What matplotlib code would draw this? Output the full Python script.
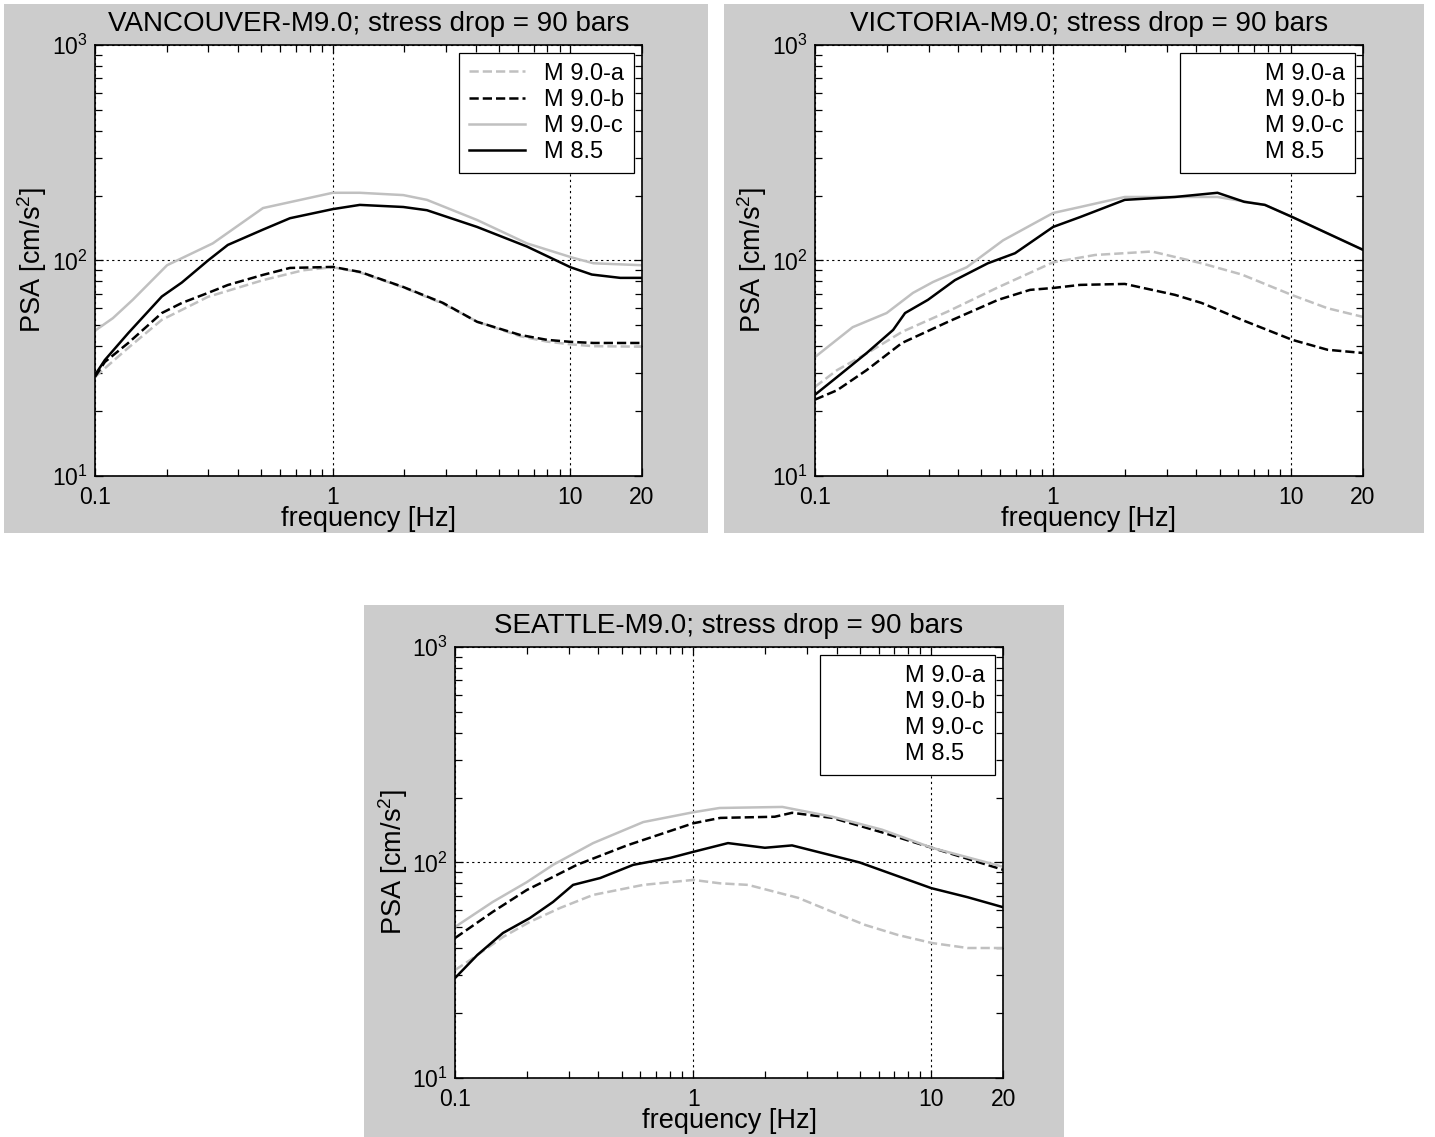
import numpy as np
import matplotlib.pyplot as plt
from matplotlib.patches import Rectangle
from matplotlib.ticker import NullFormatter, LogFormatterMathtext

plt.rcParams.update({
    'font.family': 'Liberation Sans',
    'mathtext.fontset': 'custom',
    'mathtext.rm': 'Liberation Sans',
    'mathtext.it': 'Liberation Sans:italic',
    'mathtext.bf': 'Liberation Sans:bold',
})

# ---------------------------------------------------------------
# data
# ---------------------------------------------------------------
labels = ['M 9.0-a', 'M 9.0-b', 'M 9.0-c', 'M 8.5']
xtick_vals = [0.1, 1, 10, 20]
xtick_labels = ['0.1', '1', '10', '20']

# Vancouver
van_a_f = [0.1, 0.138, 0.191, 0.299, 0.509, 0.75, 1.0, 1.3, 1.98, 2.91, 4.05, 6.14, 7.98, 10.0, 12.5, 20]
van_a = [28.8, 39.3, 53, 67.8, 81, 90, 93, 88, 75, 63, 52, 44.5, 42, 40.8, 40, 39.8]
van_b_f = [0.1, 0.110, 0.138, 0.191, 0.232, 0.299, 0.362, 0.509, 0.661, 1.0, 1.3, 1.98, 2.91, 4.05, 6.14, 7.98, 10.0, 12.5, 20]
van_b = [28.8, 33.8, 41.4, 57, 63.5, 70.7, 76.9, 85.7, 92.3, 93.3, 88.5, 75.3, 63.5, 51.9, 45.1, 42.8, 41.9, 41.4, 41.4]
van_c_f = [0.1, 0.119, 0.144, 0.201, 0.313, 0.509, 1.0, 1.3, 1.98, 2.49, 4.05, 6.56, 10.2, 12.5, 20]
van_c = [47.2, 54, 65.6, 95, 120, 175, 206, 206, 201, 191, 154, 120, 103, 97, 95]
van_d_f = [0.1, 0.110, 0.138, 0.191, 0.232, 0.299, 0.362, 0.509, 0.661, 1.0, 1.3, 1.98, 2.49, 4.05, 6.56, 10.0, 12.3, 16.2, 20]
van_d = [29.4, 34.5, 46, 68, 79, 100, 118, 139, 157, 173, 181, 177, 171, 143, 116, 93, 86, 83, 83]

# Victoria
vic_a_f = [0.1, 0.124, 0.165, 0.232, 0.362, 0.587, 1.0, 1.5, 2.6, 4.2, 6.2, 10.1, 14.2, 20]
vic_a = [25.9, 31, 37, 46.6, 58, 75, 98, 106, 110, 97, 86, 69, 60, 54.7]
vic_b_f = [0.1, 0.124, 0.165, 0.232, 0.362, 0.587, 0.8, 1.0, 1.3, 2.0, 3.25, 4.2, 6.2, 10.1, 14.2, 20]
vic_b = [22.6, 25, 31, 41.4, 51.9, 65.6, 73, 74.5, 77, 77.8, 69.2, 63.5, 53, 42.8, 38.5, 37.2]
vic_c_f = [0.1, 0.144, 0.2, 0.258, 0.313, 0.434, 0.617, 1.0, 1.3, 2.0, 4.9, 7.75, 10.1, 20]
vic_c = [35.6, 49, 57, 70.7, 79.4, 93, 124, 166, 177, 197, 197, 181, 159, 112]
vic_d_f = [0.1, 0.124, 0.165, 0.213, 0.239, 0.298, 0.387, 0.532, 0.692, 1.0, 1.3, 2.0, 3.25, 4.9, 6.35, 7.75, 10.1, 20]
vic_d = [23.8, 28.8, 37.2, 47.6, 57, 65.6, 81, 97, 108, 143, 159, 191, 197, 206, 187, 181, 159, 112]

# Seattle
sea_a_f = [0.1, 0.116, 0.159, 0.206, 0.276, 0.38, 0.617, 1.0, 1.3, 1.7, 2.76, 3.84, 5.27, 7.23, 10.05, 14.2, 20]
sea_a = [31.7, 35.3, 45.1, 53, 61.5, 70.7, 78.7, 83, 80, 78.7, 68.5, 59, 51.3, 46.1, 42.3, 40.1, 40.1]
sea_b_f = [0.1, 0.144, 0.2, 0.258, 0.325, 0.527, 1.0, 1.3, 2.2, 2.6, 3.84, 6.2, 10.05, 20]
sea_b = [44.6, 59, 74.5, 85.7, 97.5, 120, 152, 161, 163, 170, 161, 138, 117, 92.5]
sea_c_f = [0.1, 0.144, 0.2, 0.258, 0.38, 0.617, 1.0, 1.29, 2.37, 3.84, 6.2, 10.05, 20]
sea_c = [50.2, 65.6, 81, 97.5, 123, 154, 171, 179, 181, 163, 142, 117, 95.5]
sea_d_f = [0.1, 0.124, 0.159, 0.206, 0.258, 0.313, 0.407, 0.56, 0.8, 1.0, 1.4, 2.0, 2.6, 5.0, 10, 14.2, 20]
sea_d = [29.1, 37.2, 47.1, 55.2, 65.6, 78.7, 84.7, 97.5, 105, 112, 123, 117, 120, 100, 76, 69, 62]

GRAY = '#c0c0c0'
BG = '#cccccc'

fig = plt.figure(figsize=(14.35, 11.37), dpi=100)
fig.patch.set_facecolor('white')

# gray panel backgrounds (MATLAB figure colour), kept behind the axes
for (x0, y0, w, h) in [(0.0028, 0.5312, 0.4906, 0.4653),
                       (0.5045, 0.5312, 0.4878, 0.4653),
                       (0.2537, 0.0, 0.4878, 0.4679)]:
    fig.patches.append(Rectangle((x0, y0), w, h, transform=fig.transFigure,
                                 facecolor=BG, edgecolor='none', zorder=-10))


def panel(rect, title, curves, show_handles):
    ax = fig.add_axes(rect)
    styles = [dict(color=GRAY, ls='--'), dict(color='k', ls='--'),
              dict(color=GRAY, ls='-'), dict(color='k', ls='-')]
    for (f, v), st, lab in zip(curves, styles, labels):
        ax.plot(f, v, lw=1.8, label=lab, **st)
    ax.set_xscale('log')
    ax.set_yscale('log')
    ax.set_xlim(0.1, 20)
    ax.set_ylim(10, 1000)
    ax.set_xticks(xtick_vals)
    ax.set_xticklabels(xtick_labels)
    ax.xaxis.set_minor_formatter(NullFormatter())
    ax.yaxis.set_major_formatter(LogFormatterMathtext())
    ax.yaxis.set_minor_formatter(NullFormatter())
    ax.tick_params(which='both', direction='in', top=True, right=True,
                   labelsize=16.5, width=0.9)
    ax.tick_params(axis='x', which='major', pad=7)
    ax.tick_params(axis='y', which='major', pad=5)
    ax.tick_params(which='major', length=6)
    ax.tick_params(which='minor', length=5)
    ax.grid(which='major', color='k', ls=(0, (2, 3)), lw=0.8)
    for sp in ax.spines.values():
        sp.set_linewidth(1.2)
    ax.set_title(title, fontsize=20, pad=10)
    ax.set_xlabel('frequency [Hz]', fontsize=19.5, labelpad=-2)
    ax.set_ylabel('PSA [cm/s$^2$]', fontsize=19.5, labelpad=2)
    leg = ax.legend(loc='upper right', fontsize=17, frameon=True, fancybox=False,
                    framealpha=1, edgecolor='k', labelspacing=0.18,
                    handlelength=2.4, handletextpad=0.8, borderpad=0.4,
                    borderaxespad=0.35)
    leg.get_frame().set_linewidth(0.9)
    if not show_handles:
        for h in leg.legend_handles:
            h.set_visible(False)
    return ax


panel([0.0662, 0.5814, 0.3812, 0.3791], 'VANCOUVER-M9.0; stress drop = 90 bars',
      [(van_a_f, van_a), (van_b_f, van_b), (van_c_f, van_c), (van_d_f, van_d)], True)
panel([0.5679, 0.5814, 0.3819, 0.3791], 'VICTORIA-M9.0; stress drop = 90 bars',
      [(vic_a_f, vic_a), (vic_b_f, vic_b), (vic_c_f, vic_c), (vic_d_f, vic_d)], False)
panel([0.3171, 0.0519, 0.3819, 0.3791], 'SEATTLE-M9.0; stress drop = 90 bars',
      [(sea_a_f, sea_a), (sea_b_f, sea_b), (sea_c_f, sea_c), (sea_d_f, sea_d)], False)

fig.savefig('out.png', dpi=100, facecolor=fig.get_facecolor())
